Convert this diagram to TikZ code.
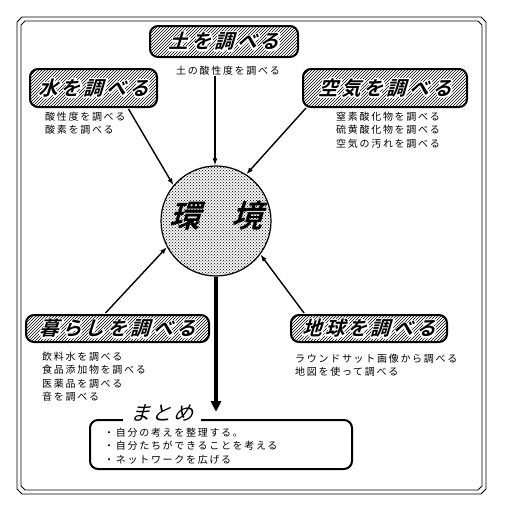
\documentclass[tikz,border=0pt]{standalone}
\usepackage{fontspec}
\usetikzlibrary{patterns,arrows.meta,calc}
\newfontfamily\jp{Noto Sans CJK JP}[LetterSpace=17]
\newfontfamily\jptitle{Noto Sans CJK JP Bold}[FakeSlant=0.3,LetterSpace=17]
\newfontfamily\jpbig{Noto Sans CJK JP Bold}[FakeSlant=0.3]
\newfontfamily\jpmat{Noto Sans CJK JP}[FakeSlant=0.3,LetterSpace=8]
\newcommand\subfont{\jp\fontsize{10}{13.2}\selectfont}
% white outline drawn by stroking the glyphs once, then the black text on top
\newcommand\halotxt[1]{\leavevmode
  \rlap{\special{pdf:literal direct 1 Tr 3.2 w 1 j 1 1 1 RG}#1\special{pdf:literal direct 0 Tr 0 0 0 RG}}%
  #1}
\tikzset{
  titlebox/.style={draw, line width=2pt, rounded corners=8pt, pattern=north east lines,
     inner sep=0pt, font=\jptitle\fontsize{19.5}{19.5}\selectfont},
  sub/.style={anchor=north west, inner sep=0pt, align=left, font=\subfont},
  thinarrow/.style={line width=1.4pt, -{Latex[length=7pt,width=5pt]}},
  frame/.style={line width=0.9pt}
}
\begin{document}
\begin{tikzpicture}[x=1pt,y=-1pt]
\useasboundingbox (0,0) rectangle (517,514);
% outer double frame
\draw[frame] (22,17) -- (481,17) -- (486,22) -- (486,489) -- (481,494) -- (22,494) -- (17,489) -- (17,22) -- cycle;
\draw[frame] (25,21) -- (478,21) -- (482,25) -- (482,486) -- (478,490) -- (25,490) -- (21,486) -- (21,25) -- cycle;

% title boxes
\node[titlebox, minimum width=148pt, minimum height=31pt] (tsuchi) at (224,41.5) {\halotxt{土を調べる}};
\node[titlebox, minimum width=127pt, minimum height=38pt] (mizu) at (93.5,88) {\halotxt{水を調べる}};
\node[titlebox, minimum width=164pt, minimum height=38pt] (kuuki) at (385,88) {\halotxt{空気を調べる}};
\node[titlebox, minimum width=183pt, minimum height=27pt] (kurashi) at (117.5,328.5) {\halotxt{暮らしを調べる}};
\node[titlebox, minimum width=156pt, minimum height=27pt] (chikyu) at (369,328.5) {\halotxt{地球を調べる}};

% subtitles
\node[inner sep=0pt, font=\subfont] (tsuchisub) at (228,71) {土の酸性度を調べる};
\node[sub] (mizusub) at (45,112) {酸性度を調べる\\酸素を調べる};
\node[sub] (kuukisub) at (336,112) {窒素酸化物を調べる\\硫黄酸化物を調べる\\空気の汚れを調べる};
\node[sub] (kurashisub) at (42,352) {飲料水を調べる\\食品添加物を調べる\\医薬品を調べる\\音を調べる};
\node[sub] (chikyusub) at (295,354) {ラウンドサット画像から調べる\\地図を使って調べる};

% center circle
\node[circle, draw, line width=1.2pt, preaction={fill=black!4}, pattern=crosshatch dots, minimum size=110pt, inner sep=0pt] (kankyo) at (216,221) {};
\node[inner sep=0pt, font=\jpbig\fontsize{31}{31}\selectfont] (kankyotxt) at (216,216) {環　境};

% summary box
\node[draw, line width=2pt, rounded corners=8pt, minimum width=262pt, minimum height=49pt] (matome) at (221,444.5) {};
\node[fill=white, inner xsep=7pt, inner ysep=1pt, font=\jpmat\fontsize{20}{20}\selectfont] (matometitle) at (162,413) {まとめ};
\node[sub] (matomesub) at (104,428) {・自分の考えを整理する。\\・自分たちができることを考える\\・ネットワークを広げる};

% connectors
\draw[thinarrow] (tsuchisub.south -| 215,0) -- (kankyo.north -| 215,0);
\draw[thinarrow] ($(mizu.south)+(35,1)$) -- (kankyo.140);
\draw[thinarrow] ($(kuuki.south west)+(4,0)$) -- (kankyo.57);
\draw[thinarrow] ($(kurashi.north)+(-12,-1)$) -- (kankyo.208);
\draw[thinarrow] ($(chikyu.north west)+(14,-1)$) -- (kankyo.-37);
\draw[line width=4pt, -{Triangle[length=11pt,width=10pt]}, shorten >=7pt] (kankyo.south -| 216,0) -- (matome.north -| 216,0);
\end{tikzpicture}
\end{document}
